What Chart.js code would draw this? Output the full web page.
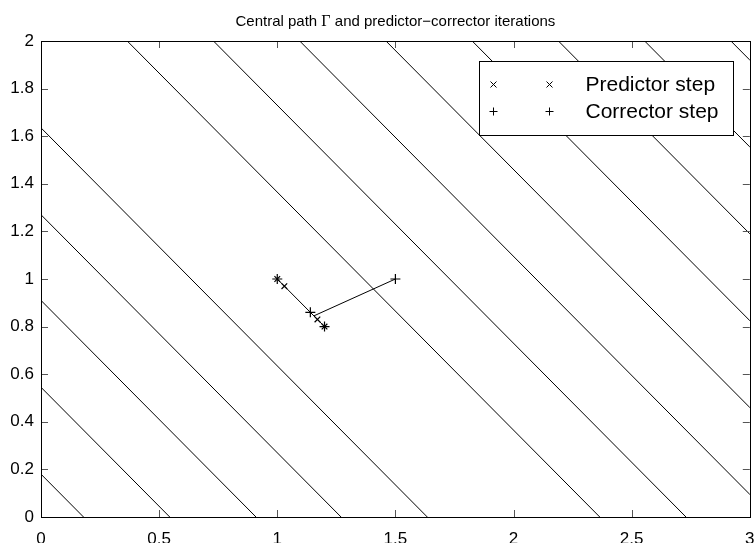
<!DOCTYPE html>
<html>
<head>
<meta charset="utf-8">
<script src="https://cdn.jsdelivr.net/npm/chart.js@4"></script>
<style>
    body { margin: 0; background: #fff; }
    canvas { display: block; }
</style>
</head>
<body>
<canvas id="chart-path" width="756" height="543"></canvas>
<script>
// level sets x + y = c of the objective
var contourLevels = [0.18, 0.545, 0.91, 1.27, 1.635, 2.365, 2.73, 3.095, 3.46, 3.825, 4.19, 4.555, 4.92];

// central path segment
var pathX = [1.0, 1.2];
var pathY = [1.0, 0.8];

// step from the starting point back onto the path
var stepX = [1.5, 1.155];
var stepY = [1.0, 0.845];

var predictorX = [1.0, 1.03, 1.17, 1.2];
var predictorY = [1.0, 0.97, 0.83, 0.8];
var correctorX = [1.0, 1.14, 1.2, 1.5];
var correctorY = [1.0, 0.86, 0.8, 1.0];

var xTicks = [0, 0.5, 1, 1.5, 2, 2.5, 3];
var yTicks = [0, 0.2, 0.4, 0.6, 0.8, 1, 1.2, 1.4, 1.6, 1.8, 2];

var titleParts = ["Central path ", "Γ", " and predictor\u2212corrector iterations"];
var legendLabels = ["Predictor step", "Corrector step"];

function points(xs, ys) {
    return xs.map(function (x, i) { return { x: x, y: ys[i] }; });
};

var datasets = [];
for (var i = 0; i < contourLevels.length; i++) {
    var c = contourLevels[i];
    datasets.push({
        data: [{ x: 0, y: c }, { x: c, y: 0 }],
        showLine: true,
        borderColor: "#000",
        borderWidth: 1,
        pointRadius: 0
    });
};
datasets.push({
    data: points(pathX, pathY),
    showLine: true,
    borderColor: "#000",
    borderWidth: 1,
    pointRadius: 0
});
datasets.push({
    data: points(stepX, stepY),
    showLine: true,
    borderColor: "#000",
    borderWidth: 1,
    pointRadius: 0
});
datasets.push({
    data: points(predictorX, predictorY),
    showLine: false,
    pointStyle: "crossRot",
    pointRadius: 4,
    borderColor: "#000",
    borderWidth: 1.2
});
datasets.push({
    data: points(correctorX, correctorY),
    showLine: false,
    pointStyle: "cross",
    pointRadius: 5,
    borderColor: "#000",
    borderWidth: 1.2
});

var FONT = "'Liberation Sans', Arial, Helvetica, sans-serif";

function drawMarker(ctx, style, x, y, r) {
    ctx.beginPath();
    if (style == "crossRot") {
        ctx.moveTo(x - r, y - r); ctx.lineTo(x + r, y + r);
        ctx.moveTo(x - r, y + r); ctx.lineTo(x + r, y - r);
    } else {
        ctx.moveTo(x - r, y); ctx.lineTo(x + r, y);
        ctx.moveTo(x, y - r); ctx.lineTo(x, y + r);
    };
    ctx.stroke();
};

// axes box, inward ticks, legend and title
var matlabFrame = {
    id: "matlabFrame",
    afterDatasetsDraw: function (chart) {
        var ctx = chart.ctx;
        var a = chart.chartArea;
        var xs = chart.scales.x, ys = chart.scales.y;
        ctx.save();

        ctx.strokeStyle = "#555";
        ctx.lineWidth = 1;
        ctx.beginPath();
        xTicks.forEach(function (v) {
            var px = Math.round(xs.getPixelForValue(v)) + 0.5;
            ctx.moveTo(px, a.bottom); ctx.lineTo(px, a.bottom - 7);
            ctx.moveTo(px, a.top); ctx.lineTo(px, a.top + 7);
        });
        yTicks.forEach(function (v) {
            var py = Math.round(ys.getPixelForValue(v)) + 0.5;
            ctx.moveTo(a.left, py); ctx.lineTo(a.left + 7, py);
            ctx.moveTo(a.right, py); ctx.lineTo(a.right - 7, py);
        });
        ctx.stroke();

        ctx.strokeStyle = "#000";
        ctx.strokeRect(Math.round(a.left) + 0.5, Math.round(a.top) + 0.5,
            Math.round(a.right - a.left), Math.round(a.bottom - a.top));

        // legend
        var bx = Math.round(a.left + 438) + 0.5, by = Math.round(a.top + 20) + 0.5;
        var bw = Math.round(a.right - 16 - bx), bh = 74;
        ctx.fillStyle = "#fff";
        ctx.fillRect(bx, by, bw, bh);
        ctx.strokeRect(bx, by, bw, bh);
        var styles = ["crossRot", "cross"];
        var sizes = [3, 4];
        ctx.fillStyle = "#000";
        ctx.font = "21px " + FONT;
        ctx.textBaseline = "middle";
        ctx.textAlign = "left";
        for (var k = 0; k < 2; k++) {
            var ry = by + 23 + k * 27;
            drawMarker(ctx, styles[k], bx + 14, ry, sizes[k]);
            drawMarker(ctx, styles[k], bx + 70, ry, sizes[k]);
            ctx.fillText(legendLabels[k], bx + 106, ry + 1);
        };

        // title, Gamma in a serif face
        var fonts = ["15px " + FONT, "16px 'Liberation Serif', serif", "15px " + FONT];
        var widths = titleParts.map(function (t, j) {
            ctx.font = fonts[j];
            return ctx.measureText(t).width;
        });
        var total = widths.reduce(function (s, w) { return s + w; }, 0);
        var tx = (a.left + a.right) / 2 - total / 2;
        for (var j = 0; j < titleParts.length; j++) {
            ctx.font = fonts[j];
            ctx.fillText(titleParts[j], tx, 22);
            tx += widths[j];
        };
        ctx.restore();
    }
};

function plainLabel(value) {
    return String(value);
};

new Chart("chart-path", {
    type: "scatter",
    data: { datasets: datasets },
    plugins: [matlabFrame],
    options: {
        responsive: false,
        animation: false,
        layout: { padding: { top: 41, right: 2, left: 0, bottom: 0 } },
        plugins: {
            legend: { display: false },
            title: { display: false },
            tooltip: { enabled: false }
        },
        scales: {
            x: {
                type: "linear",
                min: 0,
                max: 3,
                afterBuildTicks: function (scale) {
                    scale.ticks = xTicks.map(function (v) { return { value: v }; });
                },
                afterFit: function (scale) {
                    scale.height = 26;
                    scale.paddingLeft = 0;
                    scale.paddingRight = 0;
                },
                grid: { display: false, drawTicks: false },
                border: { display: false },
                ticks: {
                    autoSkip: false,
                    maxRotation: 0,
                    padding: 12,
                    color: "#000",
                    callback: plainLabel,
                    font: { family: FONT, size: 17 }
                }
            },
            y: {
                type: "linear",
                min: 0,
                max: 2,
                afterBuildTicks: function (scale) {
                    scale.ticks = yTicks.map(function (v) { return { value: v }; });
                },
                afterFit: function (scale) {
                    scale.width = 41;
                },
                grid: { display: false, drawTicks: false },
                border: { display: false },
                ticks: {
                    autoSkip: false,
                    padding: 7,
                    color: "#000",
                    callback: plainLabel,
                    font: { family: FONT, size: 17 }
                }
            }
        }
    }
});
</script>
</body>
</html>
